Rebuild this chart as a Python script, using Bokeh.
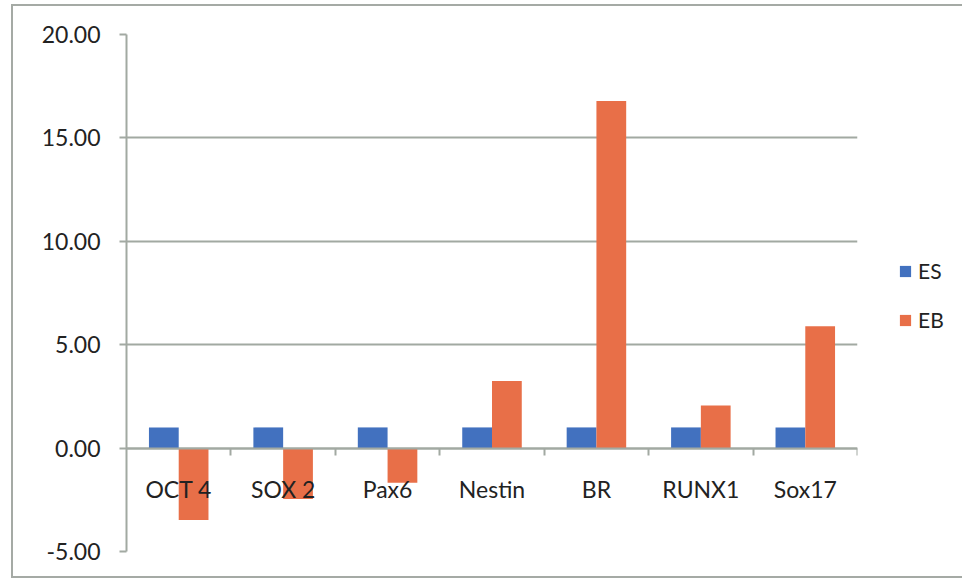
from bokeh.plotting import figure
from bokeh.models import Range1d, FixedTicker, Legend, LegendItem, ColumnDataSource, PrintfTickFormatter
from bokeh.embed import file_html
from bokeh.resources import INLINE

categories = ["OCT 4", "SOX 2", "Pax6", "Nestin", "BR", "RUNX1", "Sox17"]
es_values = [1.00, 1.00, 1.00, 1.00, 1.00, 1.00, 1.00]
eb_values = [-3.48, -2.46, -1.68, 3.24, 16.78, 2.06, 5.89]
y_ticks = [-5, 0, 5, 10, 15, 20]

centers = [i + 0.5 for i in range(len(categories))]
bw = 0.285
src = ColumnDataSource(dict(
    x_es=[c - bw / 2 for c in centers],
    x_eb=[c + bw / 2 for c in centers],
    es=es_values, eb=eb_values,
))

FONT = "Lato"
GRID = "#a2a9a2"

p = figure(frame_width=731, frame_height=517, output_backend="svg", toolbar_location=None,
           x_range=Range1d(0, len(categories)), y_range=Range1d(-5, 20),
           min_border_left=113, min_border_top=28, min_border_bottom=25, min_border_right=105)
p.styles = {"margin-left": "11px", "margin-top": "4px",
            "border-left": "2px solid #a5aaa5", "border-top": "2px solid #a5aaa5",
            "border-bottom": "2px solid #a5aaa5"}
p.outline_line_color = None
p.background_fill_color = "white"
p.border_fill_color = "white"

r_es = p.vbar(x="x_es", top="es", bottom=0, width=bw, source=src, fill_color="#4271bf", line_color=None)
r_eb = p.vbar(x="x_eb", top="eb", bottom=0, width=bw, source=src, fill_color="#e86f48", line_color=None)

# y axis
p.yaxis.ticker = FixedTicker(ticks=y_ticks)
p.yaxis.formatter = PrintfTickFormatter(format="%.2f")
p.yaxis.axis_line_color = GRID
p.yaxis.axis_line_width = 2
p.yaxis.major_tick_line_color = GRID
p.yaxis.major_tick_line_width = 2
p.yaxis.major_tick_out = 7
p.yaxis.major_tick_in = 0
p.yaxis.minor_tick_line_color = None
p.yaxis.major_label_text_font = FONT
p.yaxis.major_label_text_font_size = "23px"
p.yaxis.major_label_text_color = "#222222"
p.yaxis.major_label_standoff = 19

p.ygrid.ticker = FixedTicker(ticks=y_ticks)
p.ygrid.grid_line_color = GRID
p.ygrid.grid_line_width = 2
p.xgrid.grid_line_color = None

# x axis at zero
p.xaxis.fixed_location = 0
p.xaxis.ticker = FixedTicker(ticks=centers, minor_ticks=list(range(1, len(categories) + 1)))
p.xaxis.major_label_overrides = {c: lab for c, lab in zip(centers, categories)}
p.xaxis.axis_line_color = GRID
p.xaxis.axis_line_width = 2
p.xaxis.major_tick_line_color = None
p.xaxis.minor_tick_line_color = GRID
p.xaxis.minor_tick_line_width = 2
p.xaxis.minor_tick_out = 7
p.xaxis.minor_tick_in = 0
p.xaxis.major_label_text_font = FONT
p.xaxis.major_label_text_font_size = "23px"
p.xaxis.major_label_text_color = "#222222"
p.xaxis.major_label_standoff = 20

legend = Legend(items=[LegendItem(label="ES", renderers=[r_es]), LegendItem(label="EB", renderers=[r_eb])],
                location=(41, 219), orientation="vertical")
legend.label_text_font = FONT
legend.label_text_font_size = "21px"
legend.label_text_color = "#222222"
legend.glyph_width = 14
legend.glyph_height = 14
legend.label_height = 20
legend.spacing = 24
legend.label_standoff = 6
legend.border_line_color = None
legend.background_fill_alpha = 0
legend.margin = 0
legend.padding = 0
p.add_layout(legend, "right")

open("out.html", "w").write(file_html(p, INLINE))
